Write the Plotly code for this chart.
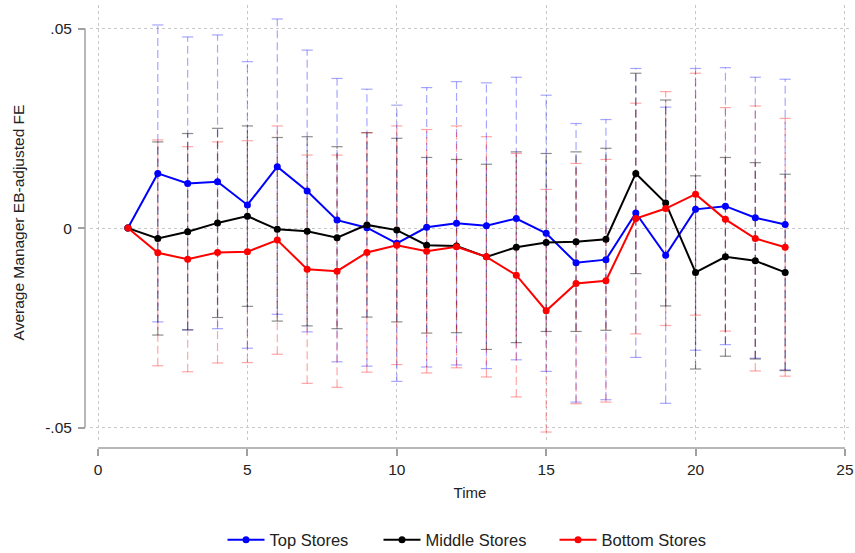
import numpy as np
import plotly.graph_objects as go

"""Data (read off the chart)"""
time = np.arange(1, 24)

top = [0, 0.0137, 0.0112, 0.0116, 0.0058, 0.0154, 0.0093, 0.0020, 0.0001, -0.0038,
       0.0002, 0.0012, 0.0006, 0.0024, -0.0013, -0.0087, -0.0079, 0.0038, -0.0068,
       0.0047, 0.0055, 0.0026, 0.0009]
top_ci = [0, 0.0372, 0.0367, 0.0368, 0.0359, 0.0370, 0.0353, 0.0355, 0.0347, 0.0346,
          0.0350, 0.0355, 0.0358, 0.0354, 0.0346, 0.0349, 0.0351, 0.0362, 0.0371,
          0.0353, 0.0347, 0.0352, 0.0364]

middle = [0, -0.0026, -0.0009, 0.0013, 0.0030, -0.0003, -0.0008, -0.0024, 0.0008, -0.0005,
          -0.0043, -0.0045, -0.0072, -0.0048, -0.0036, -0.0034, -0.0028, 0.0137, 0.0063,
          -0.0111, -0.0072, -0.0082, -0.0111]
middle_ci = [0, 0.0242, 0.0246, 0.0237, 0.0226, 0.0230, 0.0237, 0.0228, 0.0231, 0.0230,
             0.0220, 0.0217, 0.0232, 0.0239, 0.0223, 0.0225, 0.0228, 0.0251, 0.0258,
             0.0242, 0.0249, 0.0246, 0.0246]

bottom = [0, -0.0062, -0.0078, -0.0061, -0.0059, -0.0030, -0.0103, -0.0108, -0.0061, -0.0043,
          -0.0058, -0.0047, -0.0072, -0.0118, -0.0207, -0.0139, -0.0132, 0.0024, 0.0049,
          0.0085, 0.0022, -0.0026, -0.0048]
bottom_ci = [0, 0.0283, 0.0282, 0.0277, 0.0278, 0.0286, 0.0286, 0.0291, 0.0300, 0.0299,
             0.0305, 0.0303, 0.0301, 0.0305, 0.0304, 0.0301, 0.0304, 0.0289, 0.0293,
             0.0303, 0.0280, 0.0332, 0.0323]

x_ticks = [0, 5, 10, 15, 20, 25]
y_ticks = [-0.05, 0, 0.05]
y_ticklabels = ["-.05", "0", ".05"]

# name, values, CI half-width, line colour, CI colour, legend entry width
series = [
    ("Top Stores", top, top_ci, "#0000ff", "rgba(0,0,255,0.35)", 104),
    ("Middle Stores", middle, middle_ci, "#000000", "rgba(0,0,0,0.45)", 124),
    ("Bottom Stores", bottom, bottom_ci, "#ff0000", "rgba(255,0,0,0.35)", 106),
]

FONT = "Liberation Sans, Arial, sans-serif"
AXIS_GRAY = "#a0a0a0"

fig = go.Figure()

# dashed confidence intervals with caps (drawn first, behind the lines)
for name, vals, ci, color, ci_color, lw in series:
    vals = np.array(vals)
    ci = np.array(ci)
    keep = ci > 0
    lo = vals[keep] - ci[keep]
    hi = vals[keep] + ci[keep]
    tx = time[keep]
    seg_x, seg_y = [], []
    for t, a, b in zip(tx, lo, hi):
        seg_x += [t, t, None]
        seg_y += [a, b, None]
    fig.add_trace(go.Scatter(
        x=seg_x, y=seg_y, mode="lines", showlegend=False, hoverinfo="skip",
        line=dict(color=ci_color, width=1.2, dash="8px,4px"),
    ))
    fig.add_trace(go.Scatter(
        x=np.concatenate([tx, tx]), y=np.concatenate([lo, hi]), mode="markers",
        showlegend=False, hoverinfo="skip",
        marker=dict(symbol="line-ew", size=8, line=dict(color=ci_color, width=1.2)),
    ))

# point estimates
for name, vals, ci, color, ci_color, lw in series:
    fig.add_trace(go.Scatter(
        name=name, x=time, y=vals, mode="lines+markers",
        line=dict(color=color, width=2),
        marker=dict(color=color, size=7),
        legendwidth=lw,
    ))

# Stata-style axis lines that only span the tick range
fig.add_shape(type="line", xref="paper", yref="y", x0=0, x1=0,
              y0=min(y_ticks), y1=max(y_ticks), line=dict(color=AXIS_GRAY, width=1.5))
fig.add_shape(type="line", xref="x", yref="paper", x0=min(x_ticks), x1=max(x_ticks),
              y0=0, y1=0, line=dict(color=AXIS_GRAY, width=1.5))

fig.update_layout(
    width=855, height=553,
    margin=dict(l=85, r=5, t=5, b=105, autoexpand=False),
    paper_bgcolor="white", plot_bgcolor="white",
    font=dict(family=FONT, size=15.5, color="#222222"),
    xaxis=dict(
        domain=[0.0065, 1], anchor="free", position=0, automargin=False,
        range=[-0.27, 25.17], tickvals=x_ticks,
        showline=False, zeroline=False,
        showgrid=True, gridcolor="#c8c8c8", griddash="dot", gridwidth=1,
        ticks="outside", ticklen=7, tickcolor=AXIS_GRAY, tickwidth=1.5,
        tickfont=dict(size=15.5),
        title=dict(text="Time", standoff=10, font=dict(size=15)),
    ),
    yaxis=dict(
        domain=[0.018, 1], anchor="free", position=0, automargin=False,
        range=[-0.0531, 0.0559], tickvals=y_ticks, ticktext=y_ticklabels,
        showline=False, zeroline=False,
        showgrid=True, gridcolor="#c8c8c8", griddash="dot", gridwidth=1,
        ticks="outside", ticklen=7, tickcolor=AXIS_GRAY, tickwidth=1.5,
        tickfont=dict(size=15.5), ticklabelstandoff=3,
        title=dict(text="Average Manager EB-adjusted FE", standoff=15, font=dict(size=15.5)),
    ),
    legend=dict(
        orientation="h", x=0.5, xanchor="center", y=-0.208, yanchor="middle",
        font=dict(size=16.5), bgcolor="rgba(0,0,0,0)", itemwidth=37,
    ),
)

# drop the browser's default body margin so the figure sits at the page corner
fig.write_html(
    "out.html",
    config={"displayModeBar": False},
    post_script="document.body.style.margin = '0';",
)
